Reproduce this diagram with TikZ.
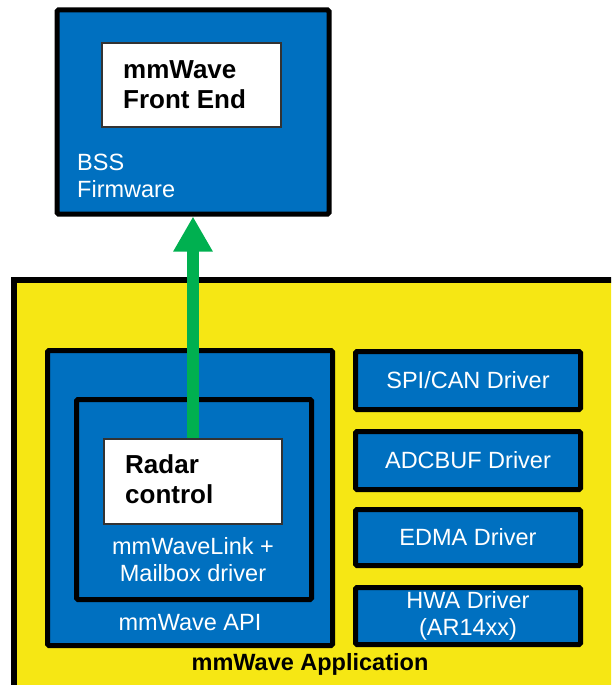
\documentclass[tikz,border=0pt]{standalone}
\usepackage{fontspec}
\setmainfont{Liberation Sans}
\usetikzlibrary{arrows.meta}
\definecolor{tiblue}{RGB}{0,112,192}
\definecolor{tiyellow}{RGB}{246,231,20}
\definecolor{tigreen}{RGB}{0,176,80}
\begin{document}
\begin{tikzpicture}[x=1pt,y=-1pt,
  bluebox/.style={draw=black,line width=5pt,fill=tiblue,rounded corners=1.5pt,inner sep=0pt},
  whitebox/.style={draw=black!80,line width=1.5pt,fill=white,inner sep=0pt},
  wtext/.style={text=white,font=\fontsize{23.5}{27}\selectfont,inner sep=0pt},
  btext/.style={text=black,font=\fontsize{26}{30}\selectfont\bfseries,inner sep=0pt}]
\useasboundingbox (0,0) rectangle (611,685);
\begin{scope}
\clip (0,0) rectangle (611,685);
% application box (yellow)
\node[draw=black,line width=6pt,fill=tiyellow,inner sep=0pt,minimum width=640pt,minimum height=440pt,anchor=north west] (app) at (11,277) {};
\end{scope}
% BSS box
\node[bluebox,minimum width=272pt,minimum height=204pt] (bss) at (193,112) {};
\node[whitebox,minimum width=179pt,minimum height=84pt] (fe) at (191.5,85) {};
\node[btext,align=left,anchor=west] (fetext) at (123,85) {mmWave\\Front End};
\node[wtext,align=left,anchor=west] (bsstext) at (77,176) {BSS\\Firmware};
% mmWave API
\node[bluebox,minimum width=285pt,minimum height=295pt] (api) at (190,498) {};
\node[bluebox,minimum width=235pt,minimum height=200pt] (link) at (194,499.5) {};
\node[whitebox,minimum width=178pt,minimum height=85pt] (radar) at (193,481.5) {};
\node[btext,align=left,anchor=west] (radartext) at (125,479) {Radar\\control};
\node[wtext,align=center] (linktext) at (193,560) {mmWaveLink +\\Mailbox driver};
\node[wtext] (apitext) at (190,623) {mmWave API};
% drivers
\node[bluebox,minimum width=225pt,minimum height=58pt] (spi) at (468,380.5) {};
\node[wtext] (spitext) at (spi.center) {SPI/CAN Driver};
\node[bluebox,minimum width=225pt,minimum height=58pt] (adc) at (468,460.5) {};
\node[wtext] (adctext) at (adc.center) {ADCBUF Driver};
\node[bluebox,minimum width=225pt,minimum height=56pt] (edma) at (468,537.5) {};
\node[wtext] (edmatext) at (edma.center) {EDMA Driver};
\node[bluebox,minimum width=225pt,minimum height=57pt] (hwa) at (468,616) {};
\node[wtext,align=center] (hwatext) at (hwa.center) {HWA Driver\\(AR14xx)};
% application label
\node[btext,font=\fontsize{23.5}{27}\selectfont\bfseries] (apptext) at (310,664) {mmWave Application};
% arrow
\draw[tigreen,line width=12pt,-{Triangle[width=37pt,length=35pt]}] (radar.north) -- (bss.south);
\end{tikzpicture}
\end{document}
